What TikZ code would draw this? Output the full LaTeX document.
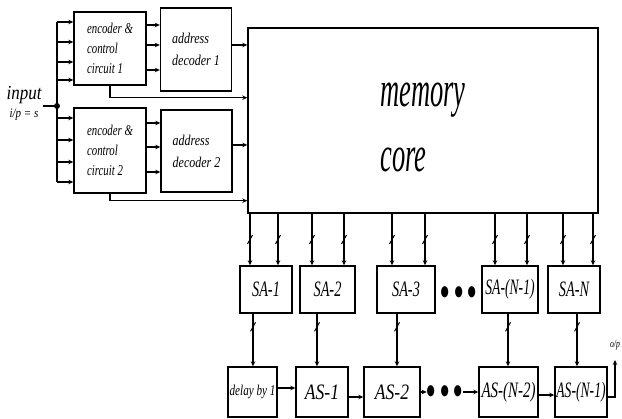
\documentclass[tikz,border=0pt]{standalone}
\usepackage{fontspec}
\setmainfont{Liberation Serif}
\usetikzlibrary{arrows.meta,decorations.markings}
\newcommand{\sq}[2][0.7]{\scalebox{#1}[1]{#2}}
\begin{document}
\begin{tikzpicture}[x=1pt,y=-1pt,
  box/.style={draw, line width=1.4pt, inner sep=0pt},
  enc/.style={box, minimum width=72, align=left, font=\itshape\fontsize{15}{20}\selectfont},
  dec/.style={box, minimum width=71, align=left, font=\itshape\fontsize{15}{22}\selectfont},
  sa/.style={box, minimum height=47, font=\itshape\fontsize{22}{22}\selectfont},
  as/.style={box, minimum height=50, font=\itshape\fontsize{22}{22}\selectfont},
  dots/.style={inner sep=0pt, font=\fontsize{20}{20}\selectfont},
  ln/.style={line width=1.1pt},
  arr/.style={ln, -{Stealth[length=5pt,width=4.5pt]}},
  busmark/.style={postaction={decorate,decoration={markings,mark=at position #1 with {\draw[line width=1pt,-] (-4.5pt,2.5pt)--(4.5pt,-2.5pt);}}}},
]
\useasboundingbox (0,0) rectangle (622,419);

% upper left blocks
\node[enc, minimum height=73] (enc1) at (110,48.5) {\sq[0.72]{encoder \&}\\\sq[0.72]{control}\\\sq[0.72]{circuit 1}};
\node[dec, minimum height=83] (dec1) at (196,49.5) {\sq[0.8]{address}\\\sq[0.8]{decoder 1}};
\node[enc, minimum height=85] (enc2) at (110,150.5) {\sq[0.72]{encoder \&}\\\sq[0.72]{control}\\\sq[0.72]{circuit 2}};
\node[dec, minimum height=82] (dec2) at (196.5,151) {\sq[0.8]{address}\\\sq[0.8]{decoder 2}};

% memory core
\node[box, minimum width=350, minimum height=185, align=left, font=\itshape\fontsize{50}{65}\selectfont] (mem) at (423,120.5) {\rule{0pt}{38pt}\sq[0.53]{memory}\\\sq[0.53]{core}};

% input
\node[inner sep=0pt, font=\itshape\fontsize{20}{20}\selectfont] (inp) at (24,95) {\sq[0.85]{input}};
\node[inner sep=0pt, font=\itshape\fontsize{13}{13}\selectfont] (ips) at (24,115) {\sq[0.85]{i/p = s}};
\coordinate (ina) at (43,106);
\coordinate (dot) at (57,106);
\foreach \i/\y in {1/22,2/42,3/62,4/80,5/118,6/140,7/162,8/182} \coordinate (b\i) at (57,\y);
\draw[ln] (ina) -- (dot);
\draw[ln] (b1) -- (b8);
\fill (dot) circle (3);
\foreach \i in {1,...,4} \draw[arr] (b\i) -- (b\i -| enc1.west);
\foreach \i in {5,...,8} \draw[arr] (b\i) -- (b\i -| enc2.west);

% encoder -> decoder
\foreach \s in {23.5,3.5,-21.5} \draw[arr] ([yshift=\s pt]enc1.east) -- ([yshift=\s pt]enc1.east -| dec1.west);
\foreach \s in {27.5,3.5,-21.5} \draw[arr] ([yshift=\s pt]enc2.east) -- ([yshift=\s pt]enc2.east -| dec2.west);

% to memory
\draw[arr] ([yshift=4.5pt]dec1.east) -- ([yshift=4.5pt]dec1.east -| mem.west);
\draw[arr] (enc1.south) |- ([yshift=-12pt]enc1.south -| mem.west);
\draw[arr] ([yshift=6pt]dec2.east) -- ([yshift=6pt]dec2.east -| mem.west);
\draw[arr] (enc2.south) |- ([yshift=-7pt]enc2.south -| mem.west);

% sense amplifiers
\node[sa, minimum width=52] (sa1) at (266,289.5) {\sq[0.65]{SA-1}};
\node[sa, minimum width=55] (sa2) at (327.5,289.5) {\sq[0.65]{SA-2}};
\node[sa, minimum width=58] (sa3) at (406,289.5) {\sq[0.65]{SA-3}};
\node[dots] (tdots) at (459,293) {\scalebox{0.9}[1.4]{$\bullet\bullet\bullet$}};
\node[sa, minimum width=56] (san1) at (510,289.5) {\sq[0.62]{SA-(N-1)}};
\node[sa, minimum width=52] (san) at (574,289.5) {\sq[0.65]{SA-N}};

\foreach \n/\a/\b in {sa1/-16/12, sa2/-15.5/16.5, sa3/-14/19, san1/-15/17, san/-11/19}{
  \draw[arr,busmark=0.5] ([xshift=\a pt]\n.north |- mem.south) -- ([xshift=\a pt]\n.north);
  \draw[arr,busmark=0.5] ([xshift=\b pt]\n.north |- mem.south) -- ([xshift=\b pt]\n.north);
}

% adder / delay row
\node[as, minimum width=49, font=\itshape\fontsize{15}{15}\selectfont] (delay) at (252.5,392) {\sq[0.74]{delay by 1}};
\node[as, minimum width=52] (as1) at (322,392) {\sq[0.8]{AS-1}};
\node[as, minimum width=56] (as2) at (392,392) {\sq[0.8]{AS-2}};
\node[dots] (bdots) at (445,392) {\scalebox{0.9}[1.4]{$\bullet\bullet\bullet$}};
\node[as, minimum width=59] (asn2) at (508.5,392) {\sq[0.68]{AS-(N-2)}};
\node[as, minimum width=52] (asn1) at (581,392) {\sq[0.62]{AS-(N-1)}};

\draw[arr,busmark=0.25] ([xshift=-13pt]sa1.south) -- ([xshift=-13pt]sa1.south |- delay.north);
\draw[arr,busmark=0.25] ([xshift=-10.5pt]sa2.south) -- ([xshift=-10.5pt]sa2.south |- as1.north);
\draw[arr,busmark=0.25] ([xshift=-9pt]sa3.south) -- ([xshift=-9pt]sa3.south |- as2.north);
\draw[arr,busmark=0.25] ([xshift=-2pt]san1.south) -- ([xshift=-2pt]san1.south |- asn2.north);
\draw[arr,busmark=0.25] ([xshift=3pt]san.south) -- ([xshift=3pt]san.south |- asn1.north);

\draw[arr] ([yshift=4pt]delay.east) -- ([yshift=4pt]delay.east -| as1.west);
\draw[arr] ([yshift=-5pt]as1.east) -- ([yshift=-5pt]as1.east -| as2.west);
\draw[arr] (as2.east) -- (bdots.west);
\draw[arr] (bdots.east) -- (asn2.west);
\draw[arr] ([yshift=-3pt]asn2.east) -- ([yshift=-3pt]asn2.east -| asn1.west);

% output
\coordinate (out) at (615,360);
\draw[arr] ([yshift=-5pt]asn1.east) -| (out);
\node[inner sep=0pt, font=\itshape\fontsize{11}{11}\selectfont] (op) at (615,345) {\sq[0.7]{o/p}};
\end{tikzpicture}
\end{document}
